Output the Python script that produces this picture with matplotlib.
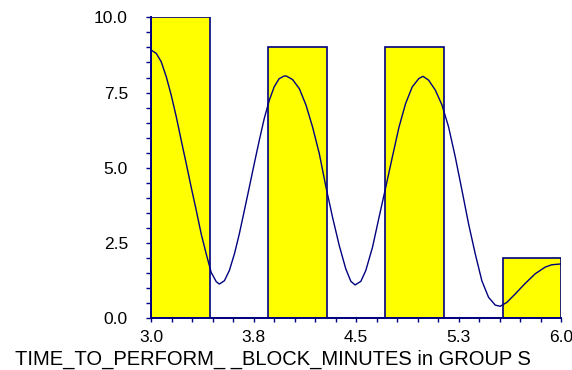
import numpy as np
import matplotlib
matplotlib.use("Agg")
import matplotlib.pyplot as plt
from matplotlib.ticker import MultipleLocator

plt.rcParams["font.family"] = ["Liberation Sans", "DejaVu Sans"]

# histogram bins (7 bins from 3 to 6) and counts
bin_edges = [3.0, 3.4286, 3.8571, 4.2857, 4.7143, 5.1429, 5.5714, 6.0]
counts = [10, 0, 9, 0, 9, 0, 2]

# smooth curve
curve_x = [3.002, 3.039, 3.075, 3.112, 3.148, 3.185, 3.221, 3.258, 3.294, 3.331,
           3.367, 3.404, 3.440, 3.477, 3.500, 3.537, 3.573, 3.610, 3.646, 3.683,
           3.719, 3.755, 3.792, 3.828, 3.865, 3.901, 3.937, 3.974, 3.990, 4.036,
           4.085, 4.134, 4.182, 4.231, 4.280, 4.328, 4.377, 4.425, 4.462, 4.493,
           4.535, 4.571, 4.620, 4.668, 4.717, 4.765, 4.814, 4.862, 4.911, 4.960,
           4.990, 5.031, 5.080, 5.129, 5.177, 5.226, 5.275, 5.323, 5.372, 5.420,
           5.469, 5.518, 5.554, 5.603, 5.664, 5.737, 5.810, 5.882, 5.930, 6.000]
curve_y = [8.91, 8.80, 8.52, 8.02, 7.41, 6.69, 5.91, 5.13, 4.35, 3.58,
           2.80, 2.13, 1.52, 1.21, 1.13, 1.24, 1.58, 2.13, 2.80, 3.58,
           4.35, 5.13, 5.91, 6.63, 7.24, 7.69, 7.96, 8.05, 8.05, 7.93,
           7.63, 7.08, 6.35, 5.47, 4.35, 3.35, 2.41, 1.63, 1.22, 1.10,
           1.22, 1.58, 2.35, 3.35, 4.35, 5.35, 6.35, 7.13, 7.69, 7.97,
           8.04, 7.91, 7.58, 7.08, 6.35, 5.35, 4.24, 3.13, 2.13, 1.24,
           0.69, 0.43, 0.39, 0.52, 0.80, 1.15, 1.47, 1.69, 1.77, 1.80]

navy = "#000080"

fig = plt.figure(figsize=(5.72, 3.70), dpi=100)
ax = fig.add_axes([0.264, 0.1405, 0.717, 0.8125])

widths = np.diff(bin_edges)
ax.bar(bin_edges[:-1], counts, width=widths, align="edge",
       color="#FFFF00", edgecolor=navy, linewidth=1.2)
ax.plot(curve_x, curve_y, color=navy, linewidth=1.0)

ax.set_xlim(3.0, 6.0)
ax.set_ylim(0, 10)
ax.set_xticks([3.0, 3.75, 4.5, 5.25, 6.0])
ax.set_xticklabels(["3.0", "3.8", "4.5", "5.3", "6.0"])
ax.set_yticks([0, 2.5, 5.0, 7.5, 10.0])
ax.set_yticklabels(["0.0", "2.5", "5.0", "7.5", "10.0"])
ax.xaxis.set_minor_locator(MultipleLocator(0.15))
ax.yaxis.set_minor_locator(MultipleLocator(0.5))

for s in ["top", "right"]:
    ax.spines[s].set_visible(False)
for s in ["left", "bottom"]:
    ax.spines[s].set_color(navy)
    ax.spines[s].set_linewidth(1.4)

ax.tick_params(axis="both", which="both", colors=navy, labelcolor="black",
               labelsize=12.5, width=1)
ax.tick_params(axis="y", which="both", length=3.6, pad=13.0)
ax.tick_params(axis="x", which="both", length=2.9, pad=5.5)

fig.text(15 / 572, 1 - 365 / 370, "TIME_TO_PERFORM_ _BLOCK_MINUTES in GROUP S",
         fontsize=14.5, ha="left", va="baseline")

fig.savefig("out.png", dpi=100)
